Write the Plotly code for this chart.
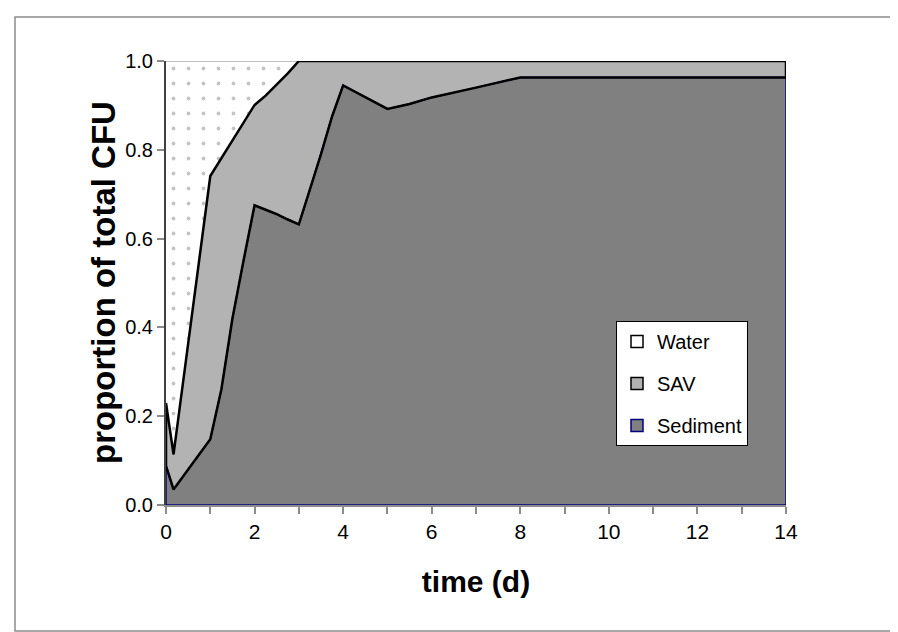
import plotly.graph_objects as go

# ---- data ----
times = [0, 0.17, 1, 1.25, 1.5, 1.75, 2, 2.25, 2.5, 2.75, 3, 3.25, 3.5, 3.75, 4,
         5, 5.5, 6, 7, 8, 14]
sediment = [0.088, 0.035, 0.148, 0.26, 0.42, 0.55, 0.675, 0.665, 0.655, 0.643, 0.632,
            0.71, 0.79, 0.875, 0.945, 0.892, 0.903, 0.918, 0.94, 0.963, 0.963]
sav = [0.142, 0.079, 0.593, 0.521, 0.40, 0.312, 0.226, 0.257, 0.291, 0.329, 0.368,
       0.29, 0.21, 0.125, 0.055, 0.108, 0.097, 0.082, 0.06, 0.037, 0.037]
water = [0.77, 0.886, 0.259, 0.219, 0.18, 0.138, 0.099, 0.078, 0.054, 0.028, 0.0,
         0.0, 0.0, 0.0, 0.0, 0.0, 0.0, 0.0, 0.0, 0.0, 0.0]
series_names = ["Sediment", "SAV", "Water"]
x_tick_vals = [0, 2, 4, 6, 8, 10, 12, 14]
y_tick_vals = [0.0, 0.2, 0.4, 0.6, 0.8, 1.0]

# cumulative boundaries built from the series
cum_sed = list(sediment)
cum_sav = [a + b for a, b in zip(sediment, sav)]

FONT = "Arial, Liberation Sans, sans-serif"
SED_FILL, SAV_FILL = "#808080", "#b3b3b3"
fig = go.Figure()

# stacked filled areas
fig.add_trace(go.Scatter(x=times, y=sediment, name=series_names[0], stackgroup="one",
                         mode="lines", fillcolor=SED_FILL,
                         line=dict(color="#000080", width=1), showlegend=False))
fig.add_trace(go.Scatter(x=times, y=sav, name=series_names[1], stackgroup="one",
                         mode="lines", fillcolor=SAV_FILL,
                         line=dict(color="#000000", width=1), showlegend=False))
fig.add_trace(go.Scatter(x=times, y=water, name=series_names[2], stackgroup="one",
                         mode="lines", fillcolor="#ffffff",
                         fillpattern=dict(shape=".", fgcolor="#8a8a8a", bgcolor="#ffffff",
                                          size=15, solidity=0.05),
                         line=dict(color="#808080", width=1), showlegend=False))

# outlines (drawn on top of the fills)
t0, t1 = times[0], times[-1]
fig.add_trace(go.Scatter(x=[t0] + times + [t1, t0], y=[0] + cum_sed + [0, 0],
                         mode="lines", line=dict(color="#000080", width=1.5),
                         showlegend=False, hoverinfo="skip"))
fig.add_trace(go.Scatter(x=times + [t1] + times[::-1] + [t0],
                         y=cum_sav + [cum_sed[-1]] + cum_sed[::-1] + [cum_sav[0]],
                         mode="lines", line=dict(color="#000000", width=2.5),
                         showlegend=False, hoverinfo="skip"))

# legend entries (square swatches like the original)
legend_specs = [(series_names[2], "#ffffff", "#000000", 1),
                (series_names[1], SAV_FILL, "#000000", 2),
                (series_names[0], SED_FILL, "#000080", 3)]
for name, fill, edge, rank in legend_specs:
    fig.add_trace(go.Scatter(x=[None], y=[None], mode="markers", name=name,
                             marker=dict(symbol="square", size=12, color=fill,
                                         line=dict(color=edge, width=1.5)),
                             legendgroup=name, legendrank=rank, showlegend=True))

# outer chart frame
L, R, T, B = 158, 778, 53, 497
pw, ph = R - L, B - T
def px(xp): return (xp - L) / pw
def py(yp): return (B - yp) / ph
fig.add_shape(type="rect", xref="paper", yref="paper",
              x0=px(7), x1=px(890), y0=py(623), y1=py(9),
              line=dict(color="#8c8c8c", width=1.5), layer="below")

# y-axis title as rotated annotation
fig.add_annotation(text="<b>proportion of total CFU</b>", textangle=-90,
                   xref="paper", yref="paper", x=px(95), y=0.5,
                   xanchor="center", yanchor="middle", showarrow=False,
                   font=dict(family=FONT, size=33, color="black"))

fig.update_layout(
    width=898, height=632,
    margin=dict(l=L, r=898 - R, t=T, b=632 - B),
    paper_bgcolor="white", plot_bgcolor="white",
    font=dict(family=FONT, size=20, color="black"),
    showlegend=True,
    legend=dict(x=px(740), y=py(313), xanchor="right", yanchor="top",
                bgcolor="white", bordercolor="black", borderwidth=1,
                font=dict(family=FONT, size=20), tracegroupgap=13,
                itemwidth=30),
    xaxis=dict(range=[0, 14], tickvals=x_tick_vals, ticks="outside", ticklen=7,
               tickcolor="#8c8c8c", tickwidth=1.5,
               minor=dict(dtick=1, ticks="outside", ticklen=7, tickcolor="#8c8c8c", tickwidth=1.5),
               showline=True, linecolor="#8c8c8c", linewidth=1.5, showgrid=False,
               zeroline=False, tickfont=dict(size=21),
               title=dict(text="<b>time (d)</b>", font=dict(size=30), standoff=29)),
    yaxis=dict(range=[0, 1], tickvals=y_tick_vals, tickformat=".1f", ticks="outside",
               ticklen=7, tickcolor="#8c8c8c", tickwidth=1.5,
               showline=True, linecolor="#404040", linewidth=2, showgrid=False,
               zeroline=False, tickfont=dict(size=20)),
)

fig.write_html("out.html")
